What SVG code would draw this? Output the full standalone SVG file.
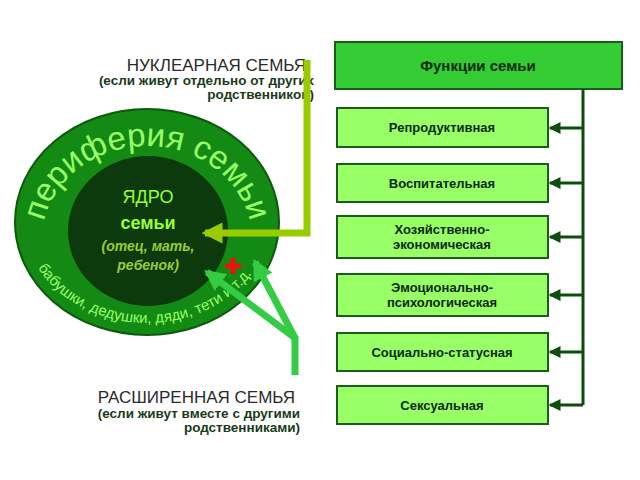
<svg xmlns="http://www.w3.org/2000/svg" width="640" height="480" viewBox="0 0 640 480">
<style>
text{font-family:"Liberation Sans",Arial,sans-serif;font-weight:bold}
.b{fill:#99ff66;stroke:#1d5c1d;stroke-width:2}
.bt{font-size:13px;fill:#0a2a0a;text-anchor:middle}
.c{stroke:#0f4d0f;stroke-width:3;fill:none}
.s{font-size:13.5px;fill:#1a3a1a}
</style>
<defs>
<marker id="ah" markerWidth="4" markerHeight="4" refX="3.5" refY="2" orient="auto" markerUnits="strokeWidth"><path d="M0,0L4,2L0,4z" fill="#0f4d0f"/></marker>
<marker id="ay" markerWidth="3" markerHeight="3" refX="2.5" refY="1.5" orient="auto" markerUnits="strokeWidth"><path d="M0,0L3,1.5L0,3z" fill="#99cc00"/></marker>
<marker id="ag" markerWidth="3" markerHeight="3" refX="2.5" refY="1.5" orient="auto" markerUnits="strokeWidth"><path d="M0,0L3,1.5L0,3z" fill="#33cc44"/></marker>
<path id="top" d="M42,240 A105,94 0 0 1 252,240"/>
<path id="bot" d="M22,215 A125,108 0 0 0 272,215"/>
</defs>
<rect width="640" height="480" fill="#fff"/>
<g id="nuclear-label">
<text x="306" y="71" text-anchor="end" style="font-size:17px;fill:#2a2a2a;font-weight:normal">НУКЛЕАРНАЯ СЕМЬЯ</text>
<text x="314" y="85" text-anchor="end" class="s">(если живут отдельно от других</text>
<text x="314" y="99" text-anchor="end" class="s">родственников)</text>
</g>
<g id="extended-label">
<text x="295" y="403" text-anchor="end" style="font-size:17px;fill:#2a2a2a;font-weight:normal">РАСШИРЕННАЯ СЕМЬЯ</text>
<text x="300" y="418" text-anchor="end" class="s">(если живут вместе с другими</text>
<text x="300" y="432" text-anchor="end" class="s">родственниками)</text>
</g>
<g id="periphery">
<ellipse cx="147" cy="222" rx="132" ry="113" fill="#138a13" stroke="#0c5a0c" stroke-width="2"/>
<text style="font-size:33px;fill:#99ff66;font-weight:normal"><textPath href="#top" startOffset="50%" text-anchor="middle">периферия семьи</textPath></text>
<text style="font-size:15px;fill:#99ff66;font-weight:normal"><textPath href="#bot" startOffset="49%" text-anchor="middle">бабушки, дедушки, дяди, тети и т.д.</textPath></text>
</g>
<g id="core">
<ellipse cx="148" cy="231" rx="80" ry="75" fill="#0c3a0c"/>
<text x="148" y="203" text-anchor="middle" style="font-size:18px;fill:#99ff33;font-weight:normal">ЯДРО</text>
<text x="148" y="229" text-anchor="middle" style="font-size:18px;fill:#99ff33">семьи</text>
<text x="148" y="251" text-anchor="middle" style="font-size:14px;fill:#99cc33;font-style:italic">(отец, мать,</text>
<text x="148" y="270" text-anchor="middle" style="font-size:14px;fill:#99cc33;font-style:italic">ребенок)</text>
</g>
<g id="cross"><path d="M233,258v16M225,266h16" stroke="#ee1111" stroke-width="5"/></g>
<g id="functions">
<rect x="335" y="42" width="287" height="47" fill="#33cc33" stroke="#1d5c1d" stroke-width="2"/>
<text x="478" y="71" class="bt" style="font-size:15px">Функции семьи</text>
<rect class="b" x="337" y="108" width="211" height="39"/><text class="bt" x="442" y="132">Репродуктивная</text>
<rect class="b" x="337" y="164" width="211" height="38"/><text class="bt" x="442" y="188">Воспитательная</text>
<rect class="b" x="337" y="216" width="211" height="42"/><text class="bt" x="442" y="234">Хозяйственно-</text><text class="bt" x="442" y="249">экономическая</text>
<rect class="b" x="337" y="274" width="211" height="42"/><text class="bt" x="442" y="292">Эмоционально-</text><text class="bt" x="442" y="307">психологическая</text>
<rect class="b" x="337" y="333" width="211" height="38"/><text class="bt" x="442" y="357">Социально-статусная</text>
<rect class="b" x="337" y="386" width="211" height="38"/><text class="bt" x="442" y="410">Сексуальная</text>
</g>
<g id="connectors">
<path class="c" d="M583,89V405"/>
<path class="c" marker-end="url(#ah)" d="M583,128H550"/>
<path class="c" marker-end="url(#ah)" d="M583,183H550"/>
<path class="c" marker-end="url(#ah)" d="M583,237H550"/>
<path class="c" marker-end="url(#ah)" d="M583,295H550"/>
<path class="c" marker-end="url(#ah)" d="M583,352H550"/>
<path class="c" marker-end="url(#ah)" d="M583,405H550"/>
<path d="M307,60V233H205" fill="none" stroke="#99cc00" stroke-width="7" marker-end="url(#ay)"/>
<path d="M295,375V338L207,272" fill="none" stroke="#33cc44" stroke-width="7" marker-end="url(#ag)"/>
<path d="M295,338L255,262" fill="none" stroke="#33cc44" stroke-width="7" marker-end="url(#ag)"/>
</g>
</svg>
